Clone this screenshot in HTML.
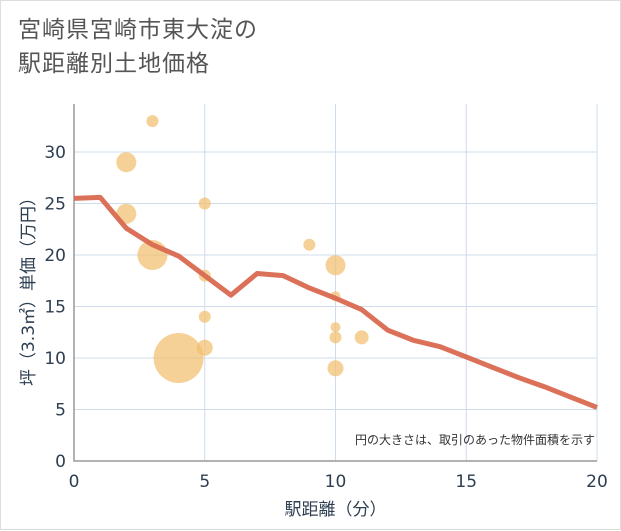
<!DOCTYPE html>
<html><head><meta charset="utf-8"><style>
body{margin:0;background:#fff;}
#wrap{width:621px;height:530px;position:relative;background:#fff;border:1px solid #ddd;box-sizing:border-box;font-family:"Liberation Sans","Noto Sans CJK JP",sans-serif;}
h1{position:absolute;left:17px;top:12px;margin:0;font-weight:normal;font-size:23px;line-height:34px;color:#555;letter-spacing:1px;font-family:"DejaVu Sans","Noto Sans CJK JP",sans-serif;}
</style></head><body>
<div id="wrap">
<h1>宮崎県宮崎市東大淀の<br>駅距離別土地価格</h1>
<svg id="chart" width="621" height="530" style="position:absolute;left:0;top:0;font-family:'DejaVu Sans','Noto Sans CJK JP',sans-serif"></svg>
</div>
<script>
const xTicks=[0,5,10,15,20];
const yTicks=[0,5,10,15,20,25,30];
const bubbleX=[3,2,2,5,3,5,4,5,5,9,10,10,10,10,10,11];
const bubbleY=[33,29,24,25,20,18,10,14,11,21,19,16,13,12,9,12];
const bubbleR=[6,10,10,6,15,6,25,6,8,6,10,5,5,6,8,7];
const lineX=[0,1,2,3,4,5,6,7,8,9,10,11,12,13,14,15,16,17,18,19,20];
const lineY=[25.5,25.6,22.6,21,19.9,18,16.1,18.2,18,16.8,15.8,14.7,12.7,11.7,11.1,10.1,9.1,8.1,7.2,6.2,5.2];
const NS="http://www.w3.org/2000/svg";
const svg=document.getElementById('chart');
const L=73,R=596,T=103,B=460;
const sx=v=>L+(v-0)/(20-0)*(R-L);
const sy=v=>B-v/30*(B-151);
function mk(t,a,p){const e=document.createElementNS(NS,t);for(const k in a)e.setAttribute(k,a[k]);(p||svg).appendChild(e);return e;}
xTicks.forEach(v=>{
 const g=mk('line',{x1:sx(v),x2:sx(v),y1:T,y2:B,stroke:'#cfdcea','stroke-width':1});
 
 
 const t=mk('text',{x:sx(v),y:B+26,'text-anchor':'middle','font-size':17,fill:'#2d3e50'});
 t.textContent=v;
 
 
});
yTicks.forEach(v=>{
 const g=mk('line',{x1:L,x2:R,y1:sy(v),y2:sy(v),stroke:'#cfdcea','stroke-width':1});
 
 
 const t=mk('text',{x:L-8,y:sy(v)+6,'text-anchor':'end','font-size':17,fill:'#2d3e50'});
 t.textContent=v;
 
 
});
const ax=mk('path',{d:`M${L},${T}V${B}H${R}`,fill:'none',stroke:'#999','stroke-width':1.5});


bubbleX.forEach((x,i)=>{
 const c=mk('circle',{cx:sx(x),cy:sy(bubbleY[i]),r:bubbleR[i],fill:'#f2bd6b','fill-opacity':0.7});
 
 
});
const pl=mk('polyline',{points:lineX.map((x,i)=>sx(x)+','+sy(lineY[i])).join(' '),fill:'none',stroke:'#d9694f','stroke-width':5,'stroke-linejoin':'round','stroke-opacity':0.95});


const n=mk('text',{x:594,y:443,'text-anchor':'end','font-size':12,fill:'#333'});
n.textContent='円の大きさは、取引のあった物件面積を示す';


const xt=mk('text',{x:(L+R)/2,y:514,'text-anchor':'middle','font-size':17,fill:'#2d3e50'});
xt.textContent='駅距離（分）';


const yt=mk('text',{x:0,y:0,'text-anchor':'middle','font-size':17,fill:'#2d3e50',transform:`translate(33,${(T+B)/2+5}) rotate(-90)`});
yt.textContent='坪（3.3㎡）単価（万円）';


</script>
</body></html>
